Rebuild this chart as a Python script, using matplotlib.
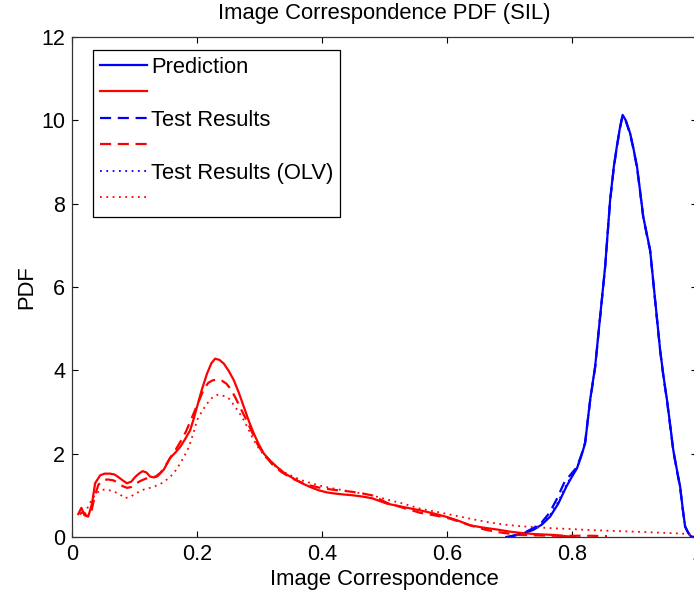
import matplotlib
matplotlib.use("Agg")
import matplotlib.pyplot as plt

plt.rcParams['font.family'] = ['Liberation Sans', 'DejaVu Sans']

# predicted / measured PDFs of image correspondence, red = one class, blue = the other
red_pred_x = [0.010, 0.015, 0.020, 0.026, 0.032, 0.037, 0.045, 0.052, 0.061, 0.068, 0.074, 0.081,
              0.088, 0.095, 0.101, 0.107, 0.113, 0.119, 0.125, 0.131, 0.137, 0.147, 0.157, 0.165,
              0.173, 0.181, 0.189, 0.195, 0.200, 0.208, 0.216, 0.223, 0.229, 0.236, 0.243, 0.251,
              0.259, 0.267, 0.275, 0.283, 0.291, 0.299, 0.307, 0.318, 0.328, 0.341, 0.355, 0.368,
              0.381, 0.395, 0.408, 0.422, 0.435, 0.450, 0.465, 0.480, 0.504, 0.530, 0.557, 0.580,
              0.600, 0.620, 0.637, 0.660, 0.680, 0.700, 0.717, 0.740, 0.770, 0.790, 0.805]
red_pred_y = [0.55, 0.70, 0.52, 0.49, 0.80, 1.29, 1.48, 1.52, 1.52, 1.50, 1.44, 1.36,
              1.29, 1.33, 1.44, 1.52, 1.58, 1.55, 1.45, 1.43, 1.46, 1.62, 1.90, 2.02,
              2.16, 2.35, 2.56, 2.85, 3.12, 3.55, 3.92, 4.17, 4.28, 4.25, 4.16, 3.98,
              3.76, 3.46, 3.12, 2.78, 2.48, 2.22, 2.00, 1.82, 1.68, 1.52, 1.40, 1.29,
              1.20, 1.12, 1.07, 1.04, 1.02, 1.00, 0.97, 0.93, 0.80, 0.72, 0.64, 0.56,
              0.48, 0.38, 0.28, 0.22, 0.18, 0.13, 0.10, 0.07, 0.05, 0.02, 0.0]

red_test_x = [0.012, 0.018, 0.024, 0.030, 0.036, 0.042, 0.050, 0.058, 0.066, 0.074, 0.081, 0.088,
              0.095, 0.102, 0.110, 0.118, 0.126, 0.134, 0.142, 0.150, 0.158, 0.166, 0.174, 0.182,
              0.190, 0.197, 0.204, 0.211, 0.218, 0.225, 0.232, 0.240, 0.247, 0.254, 0.262, 0.270,
              0.280, 0.290, 0.297, 0.307, 0.320, 0.335, 0.350, 0.365, 0.380, 0.400, 0.420, 0.440,
              0.460, 0.480, 0.504, 0.530, 0.557, 0.580, 0.600, 0.620, 0.637, 0.660, 0.680, 0.700,
              0.717, 0.740, 0.770, 0.800, 0.830, 0.856]
red_test_y = [0.55, 0.60, 0.50, 0.55, 0.95, 1.25, 1.37, 1.38, 1.36, 1.30, 1.22, 1.18,
              1.20, 1.28, 1.35, 1.40, 1.43, 1.45, 1.55, 1.72, 1.92, 2.10, 2.30, 2.52,
              2.80, 3.05, 3.30, 3.55, 3.70, 3.76, 3.78, 3.75, 3.68, 3.55, 3.33, 3.08,
              2.78, 2.45, 2.22, 1.98, 1.75, 1.56, 1.42, 1.32, 1.24, 1.17, 1.13, 1.10,
              1.06, 1.00, 0.82, 0.70, 0.58, 0.52, 0.46, 0.37, 0.28, 0.18, 0.12, 0.08,
              0.05, 0.04, 0.03, 0.03, 0.03, 0.02]

red_olv_x = [0.020, 0.028, 0.035, 0.045, 0.055, 0.065, 0.075, 0.085, 0.095, 0.104, 0.115, 0.130,
             0.145, 0.157, 0.165, 0.173, 0.180, 0.187, 0.194, 0.200, 0.208, 0.216, 0.224, 0.232,
             0.240, 0.248, 0.254, 0.259, 0.267, 0.275, 0.283, 0.291, 0.300, 0.312, 0.325, 0.340,
             0.355, 0.370, 0.385, 0.400, 0.420, 0.450, 0.480, 0.504, 0.530, 0.557, 0.585, 0.611,
             0.640, 0.664, 0.690, 0.717, 0.745, 0.770, 0.800, 0.824, 0.850, 0.877, 0.905, 0.930,
             0.955, 0.978, 0.990]
red_olv_y = [0.55, 0.80, 0.97, 1.13, 1.14, 1.10, 1.04, 0.93, 0.98, 1.06, 1.14, 1.20,
             1.30, 1.44, 1.58, 1.76, 1.95, 2.16, 2.48, 2.80, 3.02, 3.20, 3.34, 3.41,
             3.40, 3.36, 3.28, 3.16, 3.00, 2.80, 2.56, 2.32, 2.10, 1.88, 1.70, 1.55,
             1.44, 1.35, 1.28, 1.22, 1.16, 1.08, 1.00, 0.90, 0.80, 0.68, 0.60, 0.52,
             0.43, 0.36, 0.30, 0.26, 0.23, 0.21, 0.19, 0.17, 0.155, 0.14, 0.125, 0.11,
             0.095, 0.08, 0.05]

blue_pred_x = [0.695, 0.712, 0.725, 0.738, 0.752, 0.765, 0.778, 0.791, 0.800, 0.808, 0.815, 0.821,
               0.829, 0.837, 0.845, 0.853, 0.861, 0.867, 0.872, 0.877, 0.881, 0.886, 0.893, 0.898,
               0.904, 0.909, 0.914, 0.920, 0.925, 0.933, 0.941, 0.946, 0.952, 0.957, 0.962, 0.968,
               0.973, 0.977, 0.981, 0.986, 0.990, 0.995]
blue_pred_y = [0.0, 0.05, 0.10, 0.17, 0.30, 0.49, 0.80, 1.21, 1.45, 1.65, 1.95, 2.25,
               3.29, 4.09, 5.29, 6.49, 8.09, 8.90, 9.40, 9.85, 10.13, 10.00, 9.69, 9.35,
               8.89, 8.30, 7.69, 7.25, 6.89, 5.69, 4.49, 3.90, 3.29, 2.70, 2.09, 1.60,
               1.21, 0.70, 0.25, 0.10, 0.02, 0.0]

blue_test_x = [0.700, 0.714, 0.727, 0.739, 0.752, 0.764, 0.776, 0.788, 0.799, 0.808, 0.815, 0.821,
               0.829, 0.837, 0.845, 0.853, 0.861, 0.867, 0.872, 0.877, 0.881, 0.886, 0.893, 0.898,
               0.904, 0.909, 0.914, 0.920, 0.925, 0.933, 0.941, 0.946, 0.952, 0.957, 0.962, 0.968,
               0.973, 0.977, 0.981, 0.986, 0.990, 0.995]
blue_test_y = [0.0, 0.06, 0.13, 0.22, 0.36, 0.58, 0.92, 1.32, 1.52, 1.68, 1.97, 2.27,
               3.27, 4.07, 5.27, 6.47, 8.07, 8.88, 9.38, 9.83, 10.11, 9.99, 9.67, 9.33,
               8.87, 8.28, 7.67, 7.23, 6.87, 5.67, 4.47, 3.88, 3.27, 2.68, 2.07, 1.58,
               1.19, 0.69, 0.25, 0.10, 0.02, 0.0]

blue_olv_x = blue_pred_x
blue_olv_y = [0.0, 0.05, 0.11, 0.19, 0.33, 0.53, 0.85, 1.25, 1.48, 1.66, 1.96, 2.26,
              3.28, 4.08, 5.28, 6.48, 8.08, 8.89, 9.39, 9.84, 10.12, 9.99, 9.68, 9.34,
              8.88, 8.29, 7.68, 7.24, 6.88, 5.68, 4.48, 3.89, 3.28, 2.69, 2.08, 1.59,
              1.20, 0.69, 0.25, 0.10, 0.02, 0.0]

dotted = (0, (1, 2.5))

fig = plt.figure(figsize=(6.94, 5.92), dpi=100)
ax = fig.add_axes([72 / 694, 55 / 592, 625 / 694, 500 / 592])

h1, = ax.plot(blue_pred_x, blue_pred_y, color='b', lw=1.6)
h2, = ax.plot(red_pred_x, red_pred_y, color='r', lw=1.6)
h3, = ax.plot(blue_test_x, blue_test_y, color='b', lw=1.6, ls='--', dashes=(5, 3))
h4, = ax.plot(red_test_x, red_test_y, color='r', lw=1.6, ls='--', dashes=(5, 3))
h5, = ax.plot(blue_olv_x, blue_olv_y, color='b', lw=1.3, ls=dotted)
h6, = ax.plot(red_olv_x, red_olv_y, color='r', lw=1.3, ls=dotted)

ax.set_xlim(0, 1)
ax.set_ylim(0, 12)
ax.set_xticks([0, 0.2, 0.4, 0.6, 0.8, 1.0])
ax.set_xticklabels(['0', '0.2', '0.4', '0.6', '0.8', '1'])
ax.set_yticks(range(0, 13, 2))
ax.tick_params(direction='in', top=True, right=True, length=4.5, width=0.8,
               labelsize=15.5, pad=5)
for s in ax.spines.values():
    s.set_linewidth(0.9)
    s.set_color('#333333')

ax.set_title('Image Correspondence PDF (SIL)', fontsize=15.8, pad=13)
ax.set_xlabel('Image Correspondence', fontsize=15.8, labelpad=3)
ax.set_ylabel('PDF', fontsize=15.8, labelpad=3)

leg = ax.legend([h1, h2, h3, h4, h5, h6],
                ['Prediction', '', 'Test Results', '', 'Test Results (OLV)', ''],
                loc='upper left', bbox_to_anchor=(0.0336, 0.974), borderaxespad=0,
                fontsize=15.8, fancybox=False, framealpha=1, edgecolor='k',
                handlelength=2.15, handletextpad=0.2, labelspacing=0.25, borderpad=0.3)
leg.get_frame().set_linewidth(0.9)

fig.savefig('out.png', dpi=100)
